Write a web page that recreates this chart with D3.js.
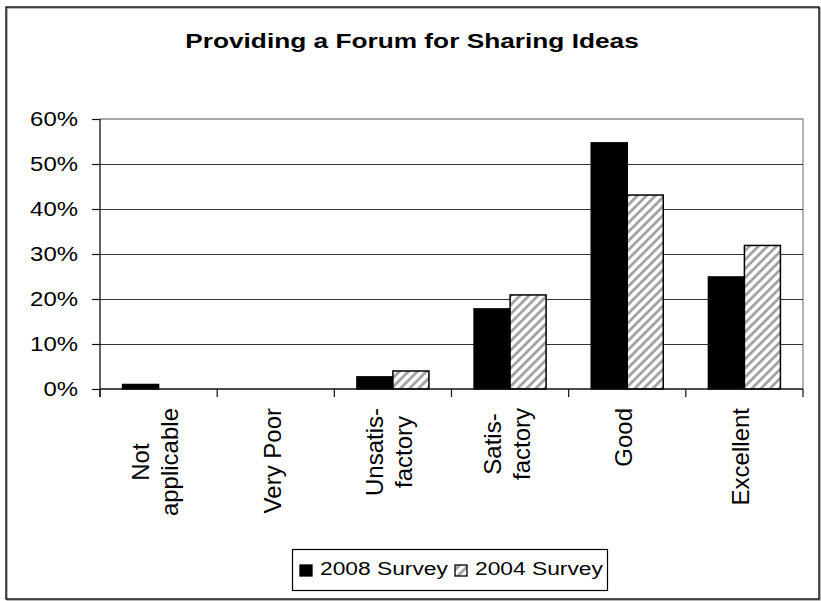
<!DOCTYPE html>
<html>
<head>
<meta charset="utf-8">
<script src="https://cdn.jsdelivr.net/npm/d3@7"></script>
<style>
  html, body { margin: 0; padding: 0; background: #fff; }
  svg { display: block; font-family: "Liberation Sans", Arial, sans-serif; }
</style>
</head>
<body>
<svg id="chart" width="821" height="601"></svg>
<script>
// Survey categories (multi-line labels split on "|")
const categories = ["Not|applicable", "Very Poor", "Unsatis-|factory", "Satis-|factory", "Good", "Excellent"];
const seriesNames = ["2008 Survey", "2004 Survey"];
const survey2008 = [0.010, 0.000, 0.027, 0.178, 0.547, 0.249];
const survey2004 = [0.000, 0.000, 0.040, 0.209, 0.431, 0.319];
const yTicks = [0, 0.1, 0.2, 0.3, 0.4, 0.5, 0.6];
const titleText = "Providing a Forum for Sharing Ideas";

const svg = d3.select("#chart");
const plot = { left: 100, right: 803, top: 119, bottom: 389 };

// hatch pattern for the 2004 series
const defs = svg.append("defs");
const pat = defs.append("pattern")
  .attr("id", "hatch")
  .attr("patternUnits", "userSpaceOnUse")
  .attr("width", 6.4).attr("height", 6.4)
  .attr("patternTransform", "rotate(45)");
pat.append("rect").attr("width", 6.4).attr("height", 6.4).attr("fill", "#fff");
pat.append("rect").attr("x", 0).attr("width", 2.8).attr("height", 6.4).attr("fill", "#a3a3a3");

// outer chart frame
svg.append("rect").attr("x", 7).attr("y", 8).attr("width", 813).attr("height", 592)
  .attr("fill", "none").attr("stroke", "#888").attr("stroke-width", 1.2);
svg.append("rect").attr("x", 6).attr("y", 7).attr("width", 813).attr("height", 592)
  .attr("fill", "none").attr("stroke", "#000").attr("stroke-width", 1.3);

// helper: text stretched horizontally around its anchor point
function stretchedText(parent, x, y, str, opts) {
  const g = parent.append("g").attr("transform", `translate(${x},${y}) scale(${opts.sx || 1},1)`);
  return g.append("text")
    .attr("text-anchor", opts.anchor || "start")
    .attr("font-size", opts.size)
    .attr("font-weight", opts.weight || "normal")
    .attr("fill", "#000")
    .text(str);
}

// title
stretchedText(svg, 412, 48, titleText, { size: 21, weight: "bold", anchor: "middle", sx: 1.25 });

// scales
const x0 = d3.scaleBand().domain(categories).range([plot.left, plot.right]).padding(0);
const x1 = d3.scaleBand().domain(seriesNames).range([0, x0.bandwidth()]).paddingInner(0).paddingOuter(0.627);
const y = d3.scaleLinear().domain([0, 0.6]).range([plot.bottom, plot.top]);

// plot area border (top and right, gray)
svg.append("path")
  .attr("d", `M${plot.left},${plot.top}H${plot.right}V${plot.bottom}`)
  .attr("fill", "none").attr("stroke", "#8a8a8a").attr("stroke-width", 1.3);

// gridlines
svg.append("g").selectAll("line")
  .data(yTicks.filter(t => t > 0 && t < 0.6))
  .join("line")
  .attr("x1", plot.left).attr("x2", plot.right)
  .attr("y1", d => Math.round(y(d)) + 0.5).attr("y2", d => Math.round(y(d)) + 0.5)
  .attr("stroke", "#333").attr("stroke-width", 1);

// bars
const rows = categories.map((c, i) => ({ cat: c, vals: [survey2008[i], survey2004[i]] }));
const groups = svg.append("g").selectAll("g")
  .data(rows).join("g")
  .attr("transform", d => `translate(${x0(d.cat)},0)`);
groups.selectAll("rect")
  .data(d => d.vals.map((v, j) => ({ key: seriesNames[j], v })))
  .join("rect")
  .filter(d => d.v > 0)
  .attr("x", d => x1(d.key))
  .attr("y", d => y(d.v))
  .attr("width", x1.bandwidth())
  .attr("height", d => y(0) - y(d.v))
  .attr("fill", d => d.key === seriesNames[0] ? "#000" : "url(#hatch)")
  .attr("stroke", "#000").attr("stroke-width", 1.5);

// y axis
const yAxis = d3.axisLeft(y).tickValues(yTicks).tickSize(8).tickFormat("");
const gy = svg.append("g").attr("transform", `translate(${plot.left},0)`).call(yAxis);
gy.select(".domain").attr("d", `M0,${plot.top}V${plot.bottom + 8}`).attr("stroke", "#111").attr("stroke-width", 1.3);
gy.selectAll(".tick line").attr("stroke", "#111").attr("stroke-width", 1.2);
yTicks.forEach(t => {
  stretchedText(svg, 78, y(t) + 7, d3.format(".0%")(t), { size: 21, anchor: "end", sx: 1.14 });
});

// x axis (ticks at category boundaries)
const bounds = categories.map(c => x0(c)).concat([plot.right]);
svg.append("line")
  .attr("x1", plot.left).attr("x2", plot.right)
  .attr("y1", plot.bottom).attr("y2", plot.bottom)
  .attr("stroke", "#111").attr("stroke-width", 1.5);
svg.append("g").selectAll("line").data(bounds).join("line")
  .attr("x1", d => d).attr("x2", d => d)
  .attr("y1", plot.bottom).attr("y2", plot.bottom + 8)
  .attr("stroke", "#111").attr("stroke-width", 1.2);

// rotated category labels, top-aligned below the axis, lines centred
const labelTop = 408;
const lineGap = 29;
categories.forEach(c => {
  const lines = c.split("|");
  const cx = x0(c) + x0.bandwidth() / 2;
  const n = lines.length;
  // measure longest line to align the block's top edge
  const tmp = svg.append("text").attr("font-size", 24);
  let maxLen = 0;
  lines.forEach(l => { tmp.text(l); maxLen = Math.max(maxLen, tmp.node().getComputedTextLength()); });
  tmp.remove();
  const midY = labelTop + maxLen / 2;
  lines.forEach((l, j) => {
    const bx = cx + 5 + (j - (n - 1) / 2) * lineGap;
    svg.append("text")
      .attr("transform", `translate(${bx},${midY}) rotate(-90)`)
      .attr("text-anchor", "middle")
      .attr("font-size", 24)
      .attr("fill", "#000")
      .text(l);
  });
});

// legend
const lg = svg.append("g");
lg.append("rect").attr("x", 292.5).attr("y", 549.5).attr("width", 315).attr("height", 41)
  .attr("fill", "#fff").attr("stroke", "#000").attr("stroke-width", 1.2);
const legendItems = [
  { name: seriesNames[0], sw: 300, tx: 320, fill: "#000" },
  { name: seriesNames[1], sw: 455, tx: 475, fill: "url(#hatch)" }
];
legendItems.forEach(it => {
  lg.append("rect").attr("x", it.sw).attr("y", 565).attr("width", 12).attr("height", 11)
    .attr("fill", it.fill).attr("stroke", "#000").attr("stroke-width", 1.3);
  stretchedText(lg, it.tx, 575, it.name, { size: 19, anchor: "start", sx: 1.2 });
});
</script>
</body>
</html>
